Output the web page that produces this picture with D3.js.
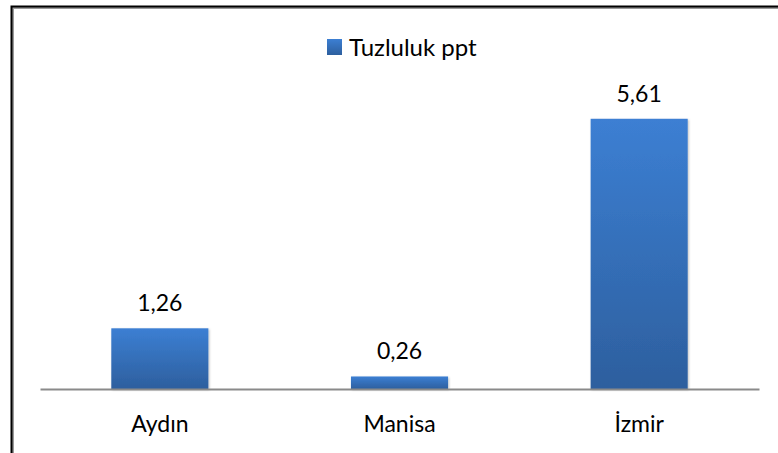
<!DOCTYPE html>
<html>
<head>
  <meta charset="utf-8">
  <title>Tuzluluk</title>
  <script src="https://d3js.org/d3.v7.min.js"></script>
  <style>
    body { margin: 0; background: #fff; }
    text { font-family: Lato, "Open Sans", sans-serif; fill: #000; }
  </style>
</head>
<body>
<script>
  const categories = ["Aydın", "Manisa", "İzmir"];
  const values = [1.26, 0.26, 5.61];
  const labels = ["1,26", "0,26", "5,61"];
  const seriesName = "Tuzluluk ppt";

  const W = 778, H = 453;
  const margin = {top: 100, left: 40, right: 19, bottom: 64};

  const svg = d3.select("body").append("svg")
    .attr("width", W)
    .attr("height", H);

  const defs = svg.append("defs");
  const grad = defs.append("linearGradient")
    .attr("id", "barGrad")
    .attr("x1", 0).attr("y1", 0).attr("x2", 0).attr("y2", 1);
  grad.append("stop").attr("offset", "0%").attr("stop-color", "#3c7fd3");
  grad.append("stop").attr("offset", "100%").attr("stop-color", "#2d5f9e");

  const shadow = defs.append("filter").attr("id", "shadow")
    .attr("x", "-10%").attr("y", "-10%").attr("width", "130%").attr("height", "130%");
  shadow.append("feDropShadow")
    .attr("dx", 1).attr("dy", 1).attr("stdDeviation", 1.2)
    .attr("flood-color", "#000").attr("flood-opacity", 0.25);

  // frame (only top and left edges are visible)
  svg.append("path")
    .attr("d", `M11.5,${H}V6.5H${W}`)
    .attr("fill", "none")
    .attr("stroke", "#9a9a9a")
    .attr("stroke-width", 3)
    .attr("transform", "translate(1,1)");
  svg.append("path")
    .attr("d", `M11.5,${H}V6.5H${W}`)
    .attr("fill", "none")
    .attr("stroke", "#000")
    .attr("stroke-width", 2);

  const x = d3.scaleBand()
    .domain(categories)
    .range([margin.left, W - margin.right])
    .paddingInner(0.595)
    .paddingOuter(0.2975);

  const y = d3.scaleLinear()
    .domain([0, 6])
    .range([H - margin.bottom, margin.top]);

  svg.append("g")
    .selectAll("rect")
    .data(values)
    .join("rect")
      .attr("x", (d, i) => x(categories[i]))
      .attr("y", d => y(d))
      .attr("width", x.bandwidth())
      .attr("height", d => y(0) - y(d))
      .attr("fill", "url(#barGrad)")
      .attr("filter", "url(#shadow)");

  // category axis
  const xAxis = svg.append("g")
    .attr("transform", `translate(0,${y(0)})`)
    .call(d3.axisBottom(x).tickSize(0).tickPadding(0));
  xAxis.select(".domain")
    .attr("stroke", "#8a8a8a")
    .attr("stroke-width", 2);
  xAxis.selectAll(".tick text")
    .attr("dy", 0)
    .attr("y", 43)
    .attr("fill", "#000")
    .style("font-size", "23px")
    .style("font-family", "Lato, 'Open Sans', sans-serif");

  // value labels
  svg.append("g")
    .selectAll("text")
    .data(values)
    .join("text")
      .attr("x", (d, i) => x(categories[i]) + x.bandwidth() / 2)
      .attr("y", d => y(d) - 17)
      .attr("text-anchor", "middle")
      .style("font-size", "23px")
      .text((d, i) => labels[i]);

  // legend
  const legend = svg.append("g").attr("transform", "translate(327,39)");
  legend.append("rect")
    .attr("width", 15).attr("height", 16)
    .attr("fill", "url(#barGrad)");
  legend.append("text")
    .attr("x", 22).attr("y", 17)
    .style("font-size", "24px")
    .text(seriesName);
</script>
</body>
</html>
